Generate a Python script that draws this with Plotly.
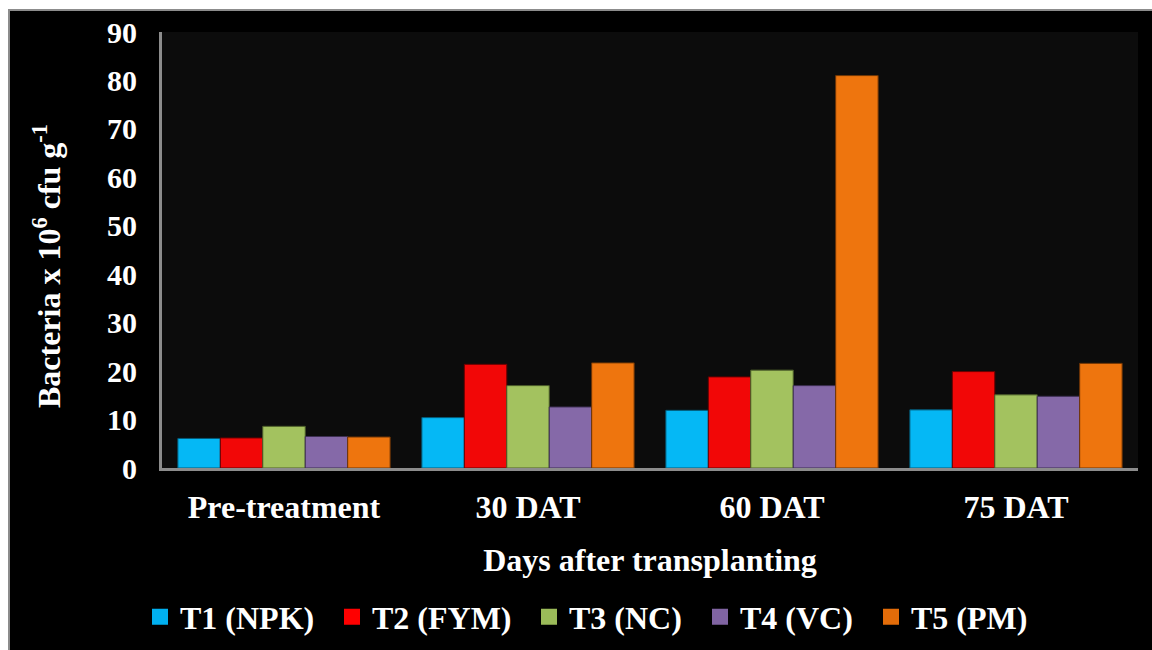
import plotly.graph_objects as go

categories = ["Pre-treatment", "30 DAT", "60 DAT", "75 DAT"]
series_names = ["T1 (NPK)", "T2 (FYM)", "T3 (NC)", "T4 (VC)", "T5 (PM)"]
t1_npk = [6.1, 10.4, 11.9, 12.0]
t2_fym = [6.2, 21.4, 18.8, 19.9]
t3_nc = [8.6, 17.0, 20.2, 15.1]
t4_vc = [6.5, 12.6, 17.0, 14.8]
t5_pm = [6.4, 21.7, 81.0, 21.6]
y_ticks = [0, 10, 20, 30, 40, 50, 60, 70, 80, 90]

series_values = [t1_npk, t2_fym, t3_nc, t4_vc, t5_pm]
colors = ["#05B8F5", "#F20707", "#A3C25F", "#8569A8", "#EE750E"]
legend_colors = ["#00B0F0", "#FF0000", "#9BBB59", "#8064A2", "#E36C09"]
outlines = ["#045a78", "#6a0000", "#4d5e2a", "#3d2f52", "#6e3505"]
legend_left_px = [152, 344, 541, 712, 883]

W, H = 1152, 650
L, R, T, B = 162, 14, 32, 182
pw, ph = W - L - R, H - T - B

def px(x):
    return (x - L) / pw

def py(y):
    return (H - B - y) / ph

font_fam = "Liberation Serif, Times New Roman, serif"

fig = go.Figure()
for i, (name, vals, c, oc) in enumerate(zip(series_names, series_values, colors, outlines)):
    fig.add_trace(go.Bar(
        x=categories, y=vals, name=name, showlegend=False, legendgroup=name,
        marker=dict(color=c, line=dict(color=oc, width=1)),
    ))
for i, (name, lc) in enumerate(zip(series_names, legend_colors)):
    fig.add_trace(go.Scatter(
        x=[None], y=[None], mode="markers", name=name, legendgroup=name,
        marker=dict(symbol="square", size=16, color=lc),
        legend="legend" if i == 0 else f"legend{i+1}",
    ))

shapes = [
    dict(type="rect", xref="paper", yref="paper", x0=px(0), x1=px(W), y0=py(0), y1=py(9),
         fillcolor="white", line=dict(width=0)),
    dict(type="rect", xref="paper", yref="paper", x0=px(0), x1=px(8), y0=py(0), y1=py(H),
         fillcolor="white", line=dict(width=0)),
    dict(type="line", xref="paper", yref="paper", x0=px(8), x1=px(W), y0=py(10), y1=py(10),
         line=dict(color="#8c8c8c", width=2)),
    dict(type="line", xref="paper", yref="paper", x0=px(9), x1=px(9), y0=py(10), y1=py(H),
         line=dict(color="#8c8c8c", width=2)),
]

legend_common = dict(
    orientation="h", xref="container", yref="container",
    yanchor="middle", y=(H - 617) / H, xanchor="left",
    font=dict(family=font_fam, size=32, color="white", weight="bold"),
    bgcolor="rgba(0,0,0,0)", borderwidth=0, itemclick=False, itemdoubleclick=False,
)
legends = {}
for i, lp in enumerate(legend_left_px):
    key = "legend" if i == 0 else f"legend{i+1}"
    legends[key] = dict(legend_common, x=(lp - 12) / W)

fig.update_layout(
    width=W, height=H,
    margin=dict(l=L, r=R, t=T, b=B, pad=0),
    paper_bgcolor="black",
    plot_bgcolor="#0c0c0c",
    barmode="group",
    bargap=0.13,
    bargroupgap=0,
    font=dict(family=font_fam, color="white", size=32),
    showlegend=True,
    shapes=shapes,
    annotations=[dict(
        text="<b>Bacteria x 10<sup>6</sup> cfu g<sup>-1</sup></b>",
        xref="paper", yref="paper", x=px(47), y=py(266), xanchor="center", yanchor="middle",
        textangle=-90, showarrow=False,
        font=dict(family=font_fam, size=32, color="white"),
    )],
    xaxis=dict(
        showgrid=False, showline=True, linecolor="#8c8c8c", linewidth=3,
        ticks="", ticklabelstandoff=9, automargin=False,
        tickfont=dict(family=font_fam, size=32, color="white", weight="bold"),
        title=dict(text="<b>Days after transplanting</b>", standoff=25,
                   font=dict(family=font_fam, size=32, color="white")),
    ),
    yaxis=dict(
        range=[0, 90], tickvals=y_ticks, showgrid=False, zeroline=False,
        showline=True, linecolor="#8c8c8c", linewidth=3, automargin=False,
        ticks="", ticklabelstandoff=16,
        tickfont=dict(family=font_fam, size=30, color="white", weight="bold"),
    ),
    **legends,
)

fig.write_html("out.html", config={"displayModeBar": False},
               post_script="document.body.style.margin='0';document.body.style.overflow='hidden';")
